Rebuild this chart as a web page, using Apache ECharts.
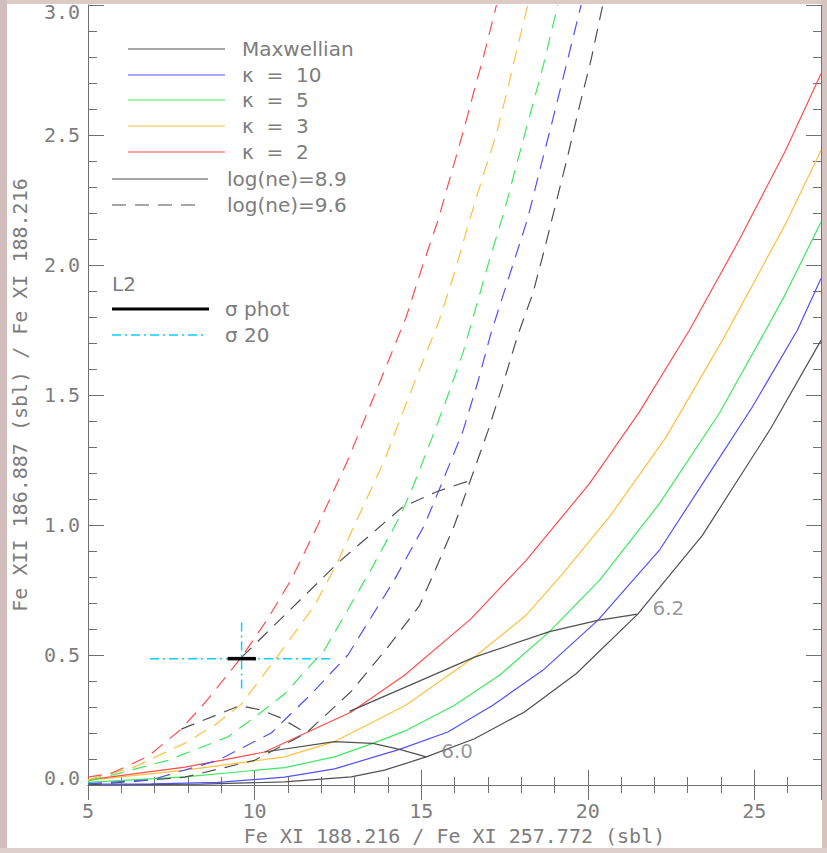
<!DOCTYPE html>
<html><head><meta charset="utf-8">
<script src="https://cdn.jsdelivr.net/npm/echarts@6/dist/echarts.min.js"></script>
<style>html,body{margin:0;padding:0;background:#fff;overflow:hidden}#c{width:827px;height:853px}</style>
</head><body><div id="c"></div>
<script>
// ---- data ----
// log(ne)=8.9 (solid)
const maxw89 = [[5,0],[8.4,0.003],[10.9,0.012],[12.9,0.031],[13.9,0.057],[15.15,0.108],[16.6,0.178],[18.1,0.281],[19.65,0.428],[21.5,0.657],[23.44,0.96],[25.49,1.371],[27,1.71]];
const k10_89 = [[5,0.003],[6.9,0.004],[8.9,0.01],[10.9,0.03],[12.4,0.062],[14.35,0.137],[15.8,0.204],[17.15,0.307],[18.65,0.441],[20.3,0.633],[22.15,0.903],[23.74,1.217],[24.94,1.454],[26.29,1.749],[27,1.948]];
const k5_89  = [[5,0.01],[7.91,0.031],[10.9,0.067],[12.4,0.108],[13.55,0.16],[14.5,0.207],[16.0,0.307],[17.35,0.422],[18.85,0.59],[20.35,0.787],[22.15,1.082],[23.94,1.428],[25.34,1.749],[25.94,1.89],[27,2.165]];
const k3_89  = [[5,0.018],[7.91,0.057],[10.9,0.108],[12.4,0.167],[14.5,0.304],[16.6,0.492],[18.15,0.653],[19.25,0.813],[20.65,1.031],[22.35,1.338],[24.04,1.71],[25.94,2.159],[27,2.441]];
const k2_89  = [[5,0.02],[7.91,0.069],[9.0,0.095],[10.3,0.127],[12.9,0.281],[14.5,0.422],[16.5,0.64],[18.15,0.864],[20.05,1.159],[21.55,1.435],[23.05,1.749],[24.54,2.095],[25.94,2.441],[27,2.736]];
// log(ne)=9.6 (dashed)
const maxw96 = [[5,0],[7.9,0.03],[10.0,0.095],[11.55,0.2],[12.9,0.36],[14.0,0.53],[14.95,0.69],[15.5,0.85],[16.0,1.0],[16.5,1.18],[17.0,1.36],[17.45,1.54],[17.9,1.73],[18.35,1.89],[18.7,2.06],[19.05,2.24],[19.4,2.42],[19.75,2.61],[20.1,2.79],[20.45,3.0]];
const k10_96 = [[5,0.005],[6.9,0.02],[8.9,0.095],[10.5,0.2],[11.7,0.35],[12.8,0.5],[14.2,0.79],[15.1,1.0],[15.65,1.17],[16.25,1.36],[16.7,1.55],[17.1,1.74],[17.75,2.0],[18.2,2.18],[18.55,2.36],[18.95,2.56],[19.3,2.74],[19.8,3.0]];
const k5_96  = [[5,0.015],[5.9,0.044],[7.4,0.095],[9.2,0.185],[10.1,0.27],[10.9,0.35],[12.1,0.52],[13.5,0.83],[14.35,1.03],[14.75,1.146],[15.25,1.31],[15.75,1.48],[16.25,1.66],[16.65,1.84],[17.05,2.02],[17.5,2.21],[17.85,2.38],[18.25,2.57],[18.65,2.76],[19.1,3.0]];
const k3_96  = [[5,0.02],[6.4,0.07],[7.9,0.16],[8.8,0.23],[9.6,0.31],[10.6,0.48],[11.8,0.69],[12.5,0.86],[13.0,1.0],[13.9,1.25],[14.65,1.5],[15.55,1.79],[16.0,1.97],[16.4,2.15],[16.85,2.34],[17.25,2.5],[17.6,2.68],[17.8,2.79],[18.2,3.0]];
const k2_96  = [[5,0.03],[5.7,0.045],[6.8,0.11],[7.8,0.215],[8.6,0.33],[9.6,0.49],[10.4,0.64],[11.1,0.79],[11.9,1.0],[12.8,1.25],[13.6,1.5],[14.55,1.8],[15.05,2.0],[15.5,2.17],[15.9,2.35],[16.3,2.53],[16.65,2.7],[16.85,2.79],[17.26,3.0]];
// isotherms
const iso60_89 = [[10.3,0.127],[12.4,0.167],[13.55,0.16],[14.35,0.137],[15.15,0.108]];
const iso62_89 = [[12.85,0.283],[16.6,0.492],[18.85,0.59],[20.3,0.633],[21.5,0.657]];
const isoA_96  = [[7.8,0.215],[9.55,0.305],[10.15,0.29],[10.75,0.26],[11.55,0.2]];
const isoB_96  = [[9.6,0.49],[12.55,0.86],[14.45,1.07],[15.5,1.13],[16.45,1.17]];
const isoLabelText = ['6.0','6.2'];
const isoLabelX = [15.6, 21.94];
const isoLabelY = [0.132, 0.68];
// L2 observation
const sigmaPhot = [[9.19,0.486],[10.04,0.486]];
const sigma20H = [[6.86,0.486],[12.35,0.486]];
const sigma20V = [[9.61,0.371],[9.61,0.627]];
// axes
const xMin = 5, xMax = 27, yMin = 0, yMax = 3;
const legendNames = ['Maxwellian','κ  =  10','κ  =  5','κ  =  3','κ  =  2'];
const densNames = ['log(ne)=8.9','log(ne)=9.6'];

// ---- styling ----
const C = {max:'#505050', k10:'#5050ff', k5:'#3ee860', k3:'#ffc040', k2:'#ff4d4d', cyan:'#10cdf5', txt:'#7d7d7d', ax:'#707070'};
const SANS = 'DejaVu Sans', MONO = 'DejaVu Sans Mono';
const DASH = [14, 9];
const LW = 1.2;

const chart = echarts.init(document.getElementById('c'), null, {renderer:'svg', width:827, height:853});

function ln(data, color, dash, width, z) {
  return {type:'line', data, xAxisIndex:0, yAxisIndex:0, showSymbol:false, symbol:'none',
    lineStyle:{color, width: width||LW, type: dash||'solid'}, silent:true, z: z||2, clip:true};
}
const axLine = {show:true, lineStyle:{color:C.ax, width:1}};
function xAx(grid, pos, interval, tl, main) {
  return {type:'value', gridIndex:grid, position:pos, min:xMin, max:xMax, interval,
    axisLine: main ? axLine : {show:false},
    axisTick:{show:true, inside:true, length:tl, lineStyle:{color:C.ax, width:1}},
    splitLine:{show:false},
    axisLabel:{show: main && pos==='bottom', margin:16, showMaxLabel:false, color:C.txt, fontFamily:MONO, fontSize:20},
    name: (main && pos==='bottom') ? 'Fe XI 188.216 / Fe XI 257.772 (sbl)' : '',
    nameLocation:'middle', nameGap:36,
    nameTextStyle:{color:C.txt, fontFamily:MONO, fontSize:20}};
}
function yAx(grid, pos, interval, tl, main) {
  const rs = {fontFamily:MONO, fontSize:20, color:C.txt};
  return {type:'value', gridIndex:grid, position:pos, min:yMin, max:yMax, interval,
    axisLine: main ? axLine : {show:false},
    axisTick:{show:true, inside:true, length:tl, lineStyle:{color:C.ax, width:1}},
    splitLine:{show:false},
    axisLabel:{show: main && pos==='left', margin:8, color:C.txt, fontFamily:MONO, fontSize:20,
      formatter: v => (Math.abs(v) < 1e-9 ? '{lo|0.0}' : Math.abs(v-3) < 1e-9 ? '{hi|3.0}' : v.toFixed(1)),
      rich:{lo:Object.assign({padding:[0,0,14,0]}, rs), hi:Object.assign({padding:[14,0,0,0]}, rs)}},
    name: (main && pos==='left') ? 'Fe XII 186.887 (sbl) / Fe XI 188.216' : '',
    nameLocation:'middle', nameGap:58, nameRotate:90,
    nameTextStyle:{color:C.txt, fontFamily:MONO, fontSize:20}};
}

const grid = {left:88, right:6, top:5, bottom:68, containLabel:false, outerBoundsMode:'none'};

// legend graphics
const g = [];
const FONT = '20px "' + SANS + '"';
const legColors = [C.max, C.k10, C.k5, C.k3, C.k2];
const legY = [49, 75, 100, 126, 152];
legendNames.forEach((n,i) => {
  g.push({type:'line', shape:{x1:128,y1:legY[i],x2:225,y2:legY[i]}, style:{stroke:legColors[i], lineWidth:1}});
  g.push({type:'text', style:{text:n, x:242, y:legY[i], fill:C.txt, font:FONT, verticalAlign:'middle', align:'left'}});
});
g.push({type:'line', shape:{x1:112,y1:179,x2:208,y2:179}, style:{stroke:C.max, lineWidth:1}});
g.push({type:'line', shape:{x1:112,y1:205,x2:195,y2:205}, style:{stroke:C.max, lineWidth:1, lineDash:DASH}});
g.push({type:'text', style:{text:densNames[0], x:227, y:179, fill:C.txt, font:FONT, verticalAlign:'middle'}});
g.push({type:'text', style:{text:densNames[1], x:227, y:205, fill:C.txt, font:FONT, verticalAlign:'middle'}});
g.push({type:'text', style:{text:'L2', x:112, y:284, fill:C.txt, font:FONT, verticalAlign:'middle'}});
g.push({type:'line', shape:{x1:112,y1:309,x2:209,y2:309}, style:{stroke:'#000', lineWidth:3}});
g.push({type:'text', style:{text:'σ phot', x:225, y:309, fill:C.txt, font:FONT, verticalAlign:'middle'}});
g.push({type:'line', shape:{x1:112,y1:335,x2:207,y2:335}, style:{stroke:C.cyan, lineWidth:1.5, lineDash:[9,4,2,4]}});
g.push({type:'text', style:{text:'σ 20', x:225, y:335, fill:C.txt, font:FONT, verticalAlign:'middle'}});
// page frame
g.push({type:'rect', shape:{x:0,y:0,width:827,height:4}, style:{fill:'#dccbc4'}, z:100});
g.push({type:'rect', shape:{x:0,y:0,width:7,height:853}, style:{fill:'#d1bdbb'}, z:100});
g.push({type:'rect', shape:{x:822,y:0,width:5,height:853}, style:{fill:'#d6c3c0'}, z:100});
g.push({type:'rect', shape:{x:0,y:848,width:827,height:5}, style:{fill:'#ddcfca'}, z:100});

const series = [
  ln(maxw89, C.max), ln(k10_89, C.k10), ln(k5_89, C.k5), ln(k3_89, C.k3), ln(k2_89, C.k2),
  ln(maxw96, C.max, DASH), ln(k10_96, C.k10, DASH), ln(k5_96, C.k5, DASH), ln(k3_96, C.k3, DASH), ln(k2_96, C.k2, DASH),
  ln(iso60_89, C.max), ln(iso62_89, C.max), ln(isoA_96, C.max, DASH), ln(isoB_96, C.max, DASH),
  ln(sigma20H, C.cyan, [9,4,2,4], 1.5, 5), ln(sigma20V, C.cyan, [9,4,2,4], 1.5, 5),
  ln(sigmaPhot, '#000', 'solid', 3.5, 6),
  {type:'scatter', xAxisIndex:0, yAxisIndex:0, symbolSize:0, silent:true,
   data: isoLabelText.map((t,i) => ({value:[isoLabelX[i], isoLabelY[i]], name:t})),
   label:{show:true, position:'right', distance:0, formatter: p => p.name, color:C.txt, fontFamily:SANS, fontSize:20}}
];

chart.setOption({
  animation:false,
  backgroundColor:'#ffffff',
  grid:[grid, Object.assign({}, grid)],
  xAxis:[xAx(0,'bottom',5,15,true), xAx(0,'top',5,15,true), xAx(1,'bottom',1,8,false), xAx(1,'top',1,8,false)],
  yAxis:[yAx(0,'left',0.5,16,true), yAx(0,'right',0.5,15,true), yAx(1,'left',0.1,9,false), yAx(1,'right',0.1,8,false)],
  series,
  graphic: g
});
</script></body></html>
